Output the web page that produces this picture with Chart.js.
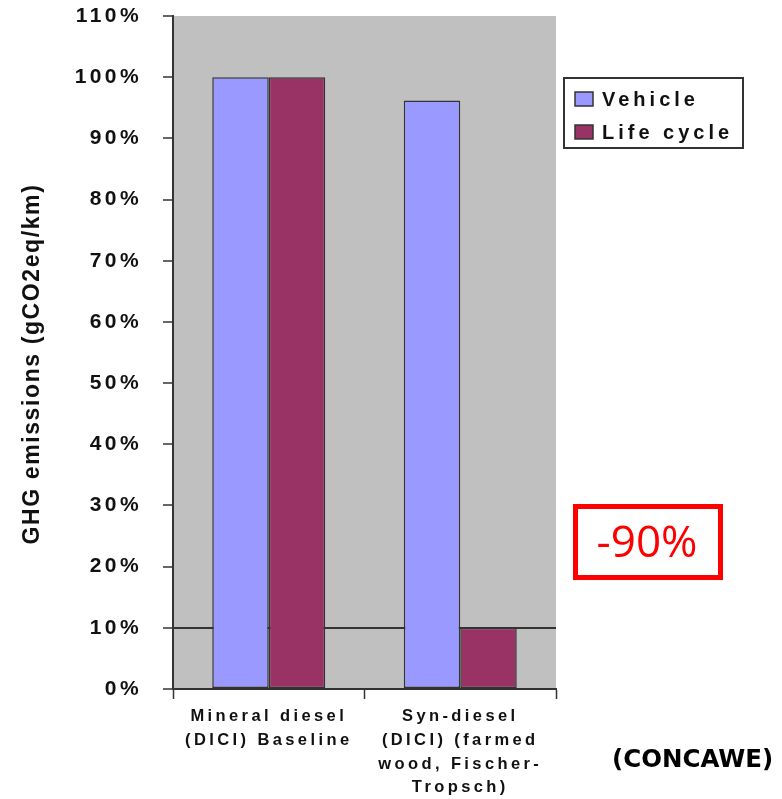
<!DOCTYPE html>
<html>
<head>
<meta charset="utf-8">
<title>GHG emissions</title>
<script src="https://cdn.jsdelivr.net/npm/chart.js@4/dist/chart.umd.min.js"></script>
<style>
  html, body { margin: 0; padding: 0; background: #ffffff; }
  #wrap { width: 782px; height: 799px; position: relative; }
</style>
</head>
<body>
<div id="wrap"><canvas id="c" width="782" height="799"></canvas></div>
<script>
// Categories (multi-line labels) and series values, in percent of the baseline
const categories = [
  ["Mineral diesel", "(DICI) Baseline"],
  ["Syn-diesel", "(DICI) (farmed", "wood, Fischer-", "Tropsch)"]
];
const vehicle = [100, 96.2];
const lifeCycle = [100, 10];
const seriesNames = ["Vehicle", "Life cycle"];
const yAxisTitle = "GHG emissions (gCO2eq/km)";
const reductionLabel = "-90%";
const sourceLabel = "(CONCAWE)";
const yMin = 0, yMax = 110, yStep = 10;

const ARIAL = "'Liberation Sans', Arial, sans-serif";
const TEXT = "#111111";
const LINE = "#333333";

// Letter spacing used by the axis text, re-applied whenever the canvas state is reset
const spacingPlugin = {
  id: 'spacing',
  beforeUpdate(chart) { chart.ctx.letterSpacing = '3.4px'; },
  beforeDraw(chart) { chart.ctx.letterSpacing = '3.4px'; }
};

// Grey plot background
const plotBg = {
  id: 'plotBg',
  beforeDraw(chart) {
    const { ctx, chartArea: a } = chart;
    ctx.save();
    ctx.fillStyle = '#C0C0C0';
    ctx.fillRect(a.left, a.top, a.right - a.left, a.bottom - a.top);
    ctx.restore();
  }
};

// Axis title, legend box, reduction callout and source note
const annotations = {
  id: 'annotations',
  afterDraw(chart) {
    const ctx = chart.ctx;
    ctx.save();

    // rotated y-axis title
    ctx.letterSpacing = '1.6px';
    ctx.font = `bold 23px ${ARIAL}`;
    ctx.fillStyle = TEXT;
    ctx.textAlign = 'center';
    ctx.textBaseline = 'middle';
    ctx.translate(33, 364);
    ctx.rotate(-Math.PI / 2);
    ctx.fillText(yAxisTitle, 0, 0);
    ctx.setTransform(1, 0, 0, 1, 0, 0);

    // legend
    const lx = 564, ly = 78, lw = 179, lh = 70;
    ctx.fillStyle = '#ffffff';
    ctx.fillRect(lx, ly, lw, lh);
    ctx.strokeStyle = LINE;
    ctx.lineWidth = 2;
    ctx.strokeRect(lx, ly, lw, lh);
    ctx.letterSpacing = '4px';
    ctx.font = `bold 20px ${ARIAL}`;
    ctx.textAlign = 'left';
    ctx.textBaseline = 'middle';
    chart.data.datasets.forEach((ds, i) => {
      const cy = 99 + i * 33;
      ctx.fillStyle = ds.backgroundColor;
      ctx.fillRect(575, cy - 7, 18, 14);
      ctx.lineWidth = 1.5;
      ctx.strokeStyle = LINE;
      ctx.strokeRect(575, cy - 7, 18, 14);
      ctx.fillStyle = TEXT;
      ctx.fillText(ds.label, 602, cy + 1);
    });

    // reduction callout
    ctx.letterSpacing = '0px';
    ctx.strokeStyle = '#FF0000';
    ctx.lineWidth = 5;
    ctx.strokeRect(575.5, 506.5, 145, 71);
    ctx.fillStyle = '#FF0000';
    ctx.font = `44px 'Open Sans', sans-serif`;
    ctx.textAlign = 'center';
    ctx.fillText(reductionLabel, 647, 544);

    // source note
    ctx.fillStyle = '#000000';
    ctx.font = `bold 24.5px 'DejaVu Sans', sans-serif`;
    ctx.textAlign = 'left';
    ctx.fillText(sourceLabel, 612, 761);

    ctx.restore();
  }
};

new Chart(document.getElementById('c'), {
  type: 'bar',
  data: {
    labels: categories,
    datasets: [
      { label: seriesNames[0], data: vehicle, backgroundColor: '#9999FF',
        borderColor: LINE, borderWidth: 1.5, borderSkipped: false },
      { label: seriesNames[1], data: lifeCycle, backgroundColor: '#993366',
        borderColor: LINE, borderWidth: 1.5, borderSkipped: false }
    ]
  },
  options: {
    responsive: false,
    animation: false,
    devicePixelRatio: 1,
    layout: { padding: { left: 0, right: 226, top: 16, bottom: 0 } },
    datasets: { bar: { categoryPercentage: 0.59, barPercentage: 1.0 } },
    plugins: {
      legend: { display: false },
      tooltip: { enabled: false }
    },
    scales: {
      x: {
        offset: true,
        grid: {
          offset: true,
          drawOnChartArea: false,
          drawTicks: true,
          tickLength: 10,
          tickColor: LINE,
          tickWidth: 1.5
        },
        border: { display: true, color: LINE, width: 2 },
        ticks: {
          maxRotation: 0,
          autoSkip: false,
          padding: 6,
          color: TEXT,
          font: { family: ARIAL, size: 16.5, weight: 'bold', lineHeight: 1.43 }
        },
        afterFit(scale) {
          scale.height = 110;
          scale.paddingLeft = 0;
          scale.paddingRight = 0;
        }
      },
      y: {
        min: yMin,
        max: yMax,
        grid: {
          drawOnChartArea: true,
          color: (c) => (c.tick && c.tick.value === 10 ? LINE : 'rgba(0,0,0,0)'),
          lineWidth: 2,
          tickColor: LINE,
          tickWidth: 1.5,
          tickLength: 10
        },
        border: { display: true, color: LINE, width: 2 },
        ticks: {
          stepSize: yStep,
          padding: 21,
          color: TEXT,
          font: { family: ARIAL, size: 21, weight: 'bold' },
          callback: (v) => v + '%'
        },
        afterFit(scale) {
          scale.width = 173;
          scale.paddingTop = 0;
          scale.paddingBottom = 0;
        }
      }
    }
  },
  plugins: [spacingPlugin, plotBg, annotations]
});
</script>
</body>
</html>
